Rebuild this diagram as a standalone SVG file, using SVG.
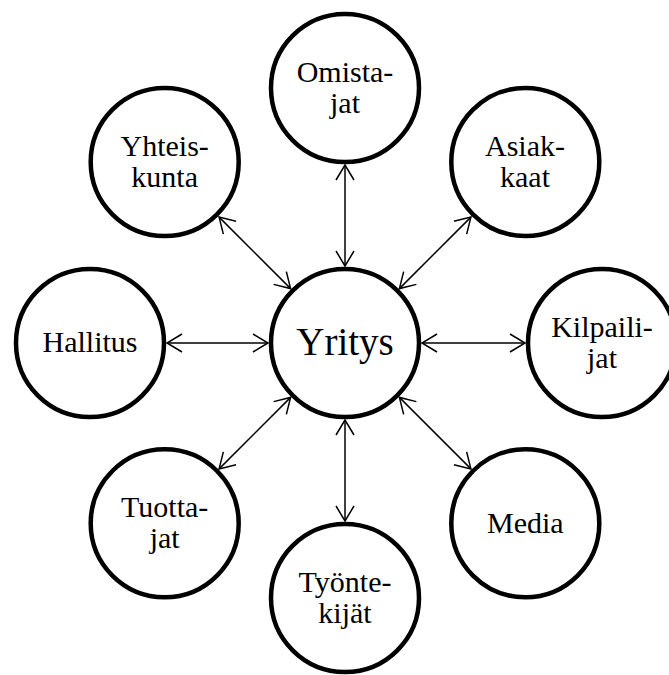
<svg xmlns="http://www.w3.org/2000/svg" width="669" height="675" viewBox="0 0 669 675">
<style>
.node circle{fill:#fff;stroke:#000;stroke-width:4.5}
.node text{font-family:"Liberation Serif","Times New Roman",serif;font-size:30px;fill:#000;text-anchor:middle}
.node text.main{font-size:39px}
.conn line{stroke:#000;stroke-width:1.5;marker-start:url(#ah);marker-end:url(#ah)}
</style>
<defs>
<marker id="ah" markerUnits="userSpaceOnUse" viewBox="-17 -11 19 22" refX="0" refY="0" markerWidth="19" markerHeight="22" orient="auto-start-reverse">
<path d="M-15,-9 L0,0 L-15,9" fill="none" stroke="#000" stroke-width="1.5"/>
</marker>
</defs>
<rect width="669" height="675" fill="#fff"/>
<g id="connectors" class="conn">
<line x1="345" y1="266" x2="345" y2="165"/>
<line x1="345" y1="420" x2="345" y2="521"/>
<line x1="268" y1="343" x2="167" y2="343"/>
<line x1="422" y1="343" x2="525" y2="343"/>
<line x1="399.4" y1="288.6" x2="470.9" y2="217.1"/>
<line x1="399.4" y1="397.4" x2="470.9" y2="468.9"/>
<line x1="290.6" y1="397.4" x2="219.1" y2="468.9"/>
<line x1="290.6" y1="288.6" x2="219.1" y2="217.1"/>
</g>
<g id="yritys" class="node"><circle cx="345" cy="343" r="74"/><text class="main" x="345" y="355">Yritys</text></g>
<g id="omistajat" class="node"><circle cx="345" cy="88" r="74"/><text x="345" y="82">Omista-</text><text x="345" y="113">jat</text></g>
<g id="asiakkaat" class="node"><circle cx="525.3" cy="162" r="74"/><text x="525" y="156">Asiak-</text><text x="525" y="187">kaat</text></g>
<g id="kilpailijat" class="node"><circle cx="602" cy="343" r="74"/><text x="602" y="337">Kilpaili-</text><text x="602" y="368">jat</text></g>
<g id="media" class="node"><circle cx="525.3" cy="523.3" r="74"/><text x="525.3" y="533">Media</text></g>
<g id="tyontekijat" class="node"><circle cx="345" cy="598" r="74"/><text x="345" y="592">Työnte-</text><text x="345" y="623">kijät</text></g>
<g id="tuottajat" class="node"><circle cx="164.7" cy="523.3" r="74"/><text x="164.7" y="517">Tuotta-</text><text x="164.7" y="548">jat</text></g>
<g id="hallitus" class="node"><circle cx="90" cy="343" r="74"/><text x="90" y="352">Hallitus</text></g>
<g id="yhteiskunta" class="node"><circle cx="164.7" cy="162" r="74"/><text x="164.7" y="156">Yhteis-</text><text x="164.7" y="187">kunta</text></g>
</svg>
